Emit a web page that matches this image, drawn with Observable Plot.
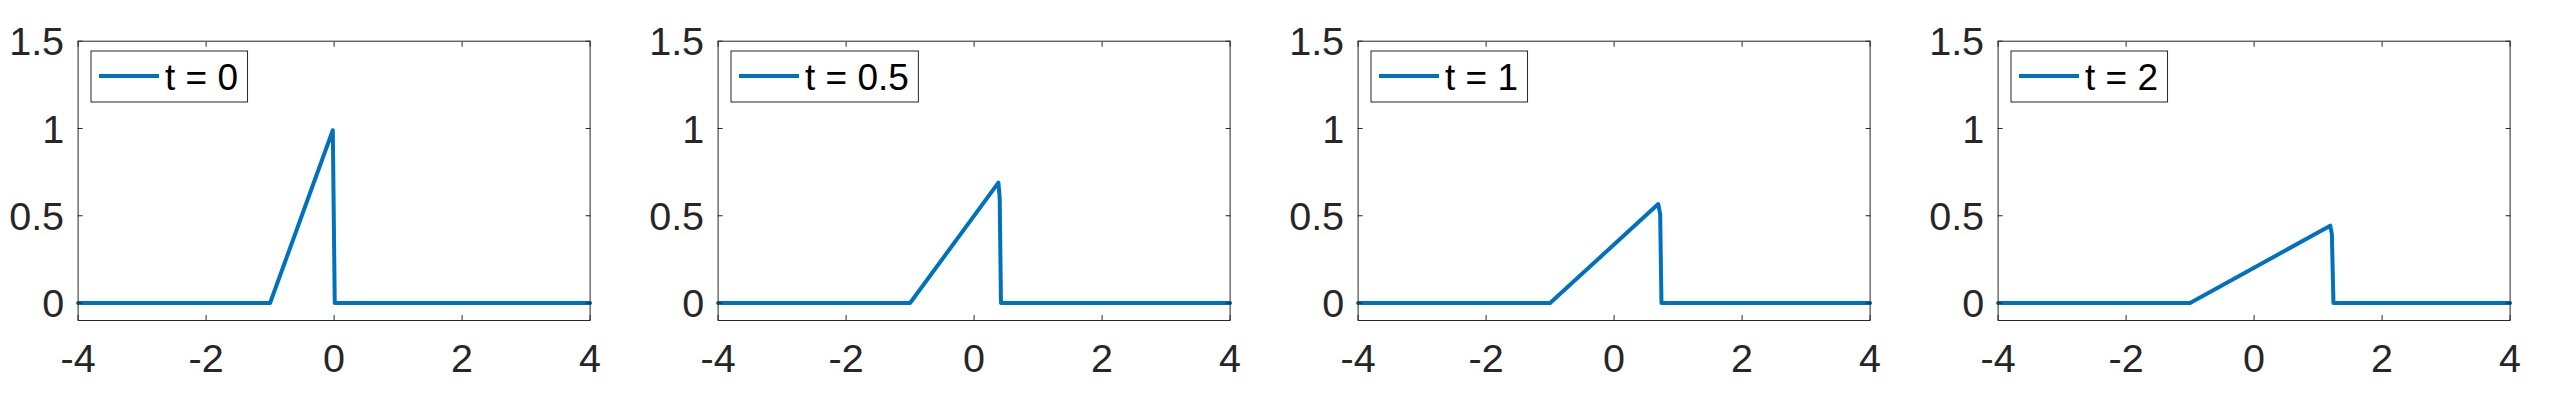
<!DOCTYPE html>
<html>
<head>
<meta charset="utf-8">
<script src="https://cdn.jsdelivr.net/npm/d3@7"></script>
<script src="https://cdn.jsdelivr.net/npm/@observablehq/plot@0.6"></script>
<style>
  body { margin: 0; background: #ffffff; }
  #row { display: flex; width: 2560px; height: 400px; }
  #row > div { width: 640px; height: 400px; flex: none; }
  #row svg text { font-size: 39.5px; font-family: 'Liberation Sans', Arial, Helvetica, sans-serif; }
  #row svg text.legend-text { font-size: 37px; }
</style>
</head>
<body>
<div id="row"></div>
<script>
// ---- data ----
const legendLabels = ["t = 0", "t = 0.5", "t = 1", "t = 2"];

const x_t0   = [-4, -1, -0.02, 0.01, 4];
const u_t0   = [ 0,  0,  0.99, 0,    0];
const x_t05  = [-4, -1, 0.38, 0.40, 0.42, 4];
const u_t05  = [ 0,  0, 0.69, 0.60, 0,    0];
const x_t1   = [-4, -1, 0.69, 0.72, 0.74, 4];
const u_t1   = [ 0,  0, 0.567, 0.51, 0,   0];
const x_t2   = [-4, -1, 1.19, 1.215, 1.24, 4];
const u_t2   = [ 0,  0, 0.443, 0.395, 0,   0];

const xTicks = [-4, -2, 0, 2, 4];
const xTickLabels = ["-4", "-2", "0", "2", "4"];
const yTicks = [0, 0.5, 1, 1.5];
const yTickLabels = ["0", "0.5", "1", "1.5"];
const xDomain = [-4, 4];
const yDomain = [-0.1, 1.5];

const seriesX = [x_t0, x_t05, x_t1, x_t2];
const seriesU = [u_t0, u_t05, u_t1, u_t2];

// ---- style ----
const FONT = "'Liberation Sans', Arial, Helvetica, sans-serif";
const FS = 39.5;
const LFS = 37;
const INK = "#262626";
const BLUE = "#0072BD";

const canvas = document.createElement("canvas");
const cctx = canvas.getContext("2d");
function textWidth(s) {
  cctx.font = `${LFS}px 'Liberation Sans'`;
  return cctx.measureText(s).width;
}

function legendMark(label) {
  return (index, scales, values, dims, context) => {
    const doc = context.document;
    const ns = "http://www.w3.org/2000/svg";
    const g = doc.createElementNS(ns, "g");
    const bx = dims.marginLeft + 13.4;
    const by = dims.marginTop + 10.3;
    const bh = 51;
    const tw = textWidth(label);
    const bw = 74 + tw + 9.5;
    const rect = doc.createElementNS(ns, "rect");
    rect.setAttribute("x", bx); rect.setAttribute("y", by);
    rect.setAttribute("width", bw); rect.setAttribute("height", bh);
    rect.setAttribute("fill", "white"); rect.setAttribute("stroke", INK);
    rect.setAttribute("stroke-width", 1);
    g.appendChild(rect);
    const ln = doc.createElementNS(ns, "line");
    ln.setAttribute("x1", bx + 8); ln.setAttribute("x2", bx + 68);
    ln.setAttribute("y1", by + 25); ln.setAttribute("y2", by + 25);
    ln.setAttribute("stroke", BLUE); ln.setAttribute("stroke-width", 4);
    g.appendChild(ln);
    const tx = doc.createElementNS(ns, "text");
    tx.setAttribute("class", "legend-text");
    tx.setAttribute("x", bx + 74); tx.setAttribute("y", by + 39);
    tx.setAttribute("fill", "#000000");
    tx.setAttribute("text-anchor", "start");
    tx.setAttribute("font-size", LFS);
    tx.setAttribute("font-family", FONT);
    tx.textContent = label;
    g.appendChild(tx);
    return g;
  };
}

const row = document.getElementById("row");
for (let k = 0; k < 4; k++) {
  const data = seriesX[k].map((x, i) => ({x, u: seriesU[k][i]}));
  const chart = Plot.plot({
    width: 640,
    height: 400,
    marginLeft: 77.6,
    marginRight: 50.4,
    marginTop: 40.7,
    marginBottom: 80,
    style: {fontFamily: FONT, fontSize: FS + "px", color: INK, background: "white"},
    x: {domain: xDomain, label: null},
    y: {domain: yDomain, label: null},
    marks: [
      Plot.line(data, {x: "x", y: "u", stroke: BLUE, strokeWidth: 4, strokeLinejoin: "round", strokeLinecap: "round"}),
      Plot.frame({stroke: INK, strokeWidth: 1}),
      Plot.axisX(xTicks, {anchor: "bottom", tickSize: 0, tickPadding: 23, fontSize: FS, fill: INK, label: null,
        tickFormat: d => xTickLabels[xTicks.indexOf(d)]}),
      Plot.axisY(yTicks, {anchor: "left", tickSize: 0, tickPadding: 14, dy: 1.5, fontSize: FS, fill: INK, label: null,
        tickFormat: d => yTickLabels[yTicks.indexOf(d)]}),
      Plot.axisX(xTicks, {anchor: "bottom", tickSize: -5, fill: "none", stroke: INK, label: null, tickFormat: () => ""}),
      Plot.axisX(xTicks, {anchor: "top", tickSize: -5, fill: "none", stroke: INK, label: null, tickFormat: () => ""}),
      Plot.axisY(yTicks, {anchor: "left", tickSize: -5, fill: "none", stroke: INK, label: null, tickFormat: () => ""}),
      Plot.axisY(yTicks, {anchor: "right", tickSize: -5, fill: "none", stroke: INK, label: null, tickFormat: () => ""}),
      legendMark(legendLabels[k])
    ]
  });
  const div = document.createElement("div");
  div.appendChild(chart);
  row.appendChild(div);
}
</script>
</body>
</html>
